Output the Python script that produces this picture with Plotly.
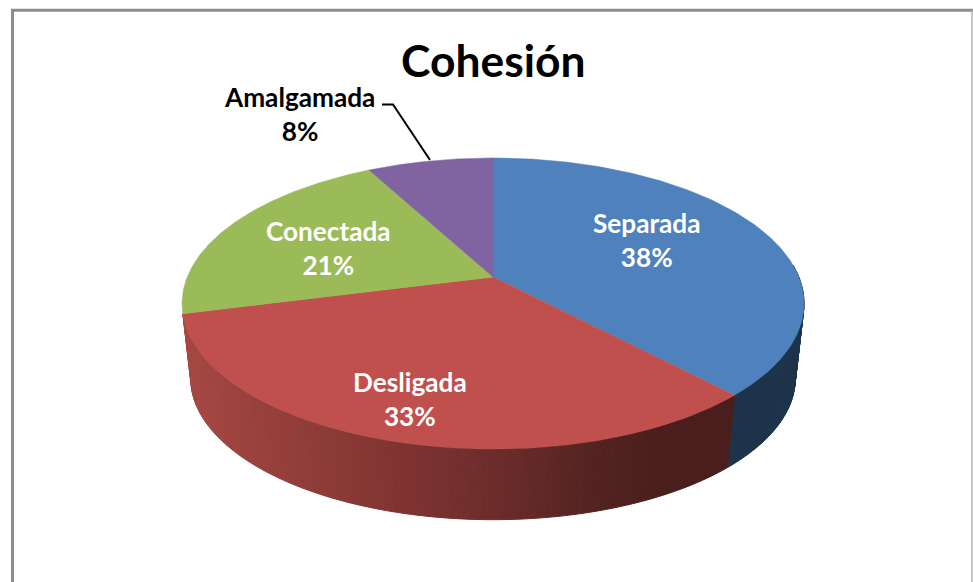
import numpy as np
import plotly.graph_objects as go

categories = ["Separada", "Desligada", "Conectada", "Amalgamada"]
values = [38.0, 33.0, 21.2, 7.8]
top_colors = ["#4f81bd", "#c0504d", "#9bbb59", "#8064a2"]
label_colors = ["white", "white", "white", "black"]
label_pos = [(647, 240), (409.5, 399), (328.5, 248), (299, 113.5)]
title = "Cohesión"

FONT = "Lato, Carlito, Calibri, sans-serif"
CX, APEX_Y, R, S, K = 493.0, 277.0, 305.8, 140.7, -0.182
BOTTOM_SCALE, BOTTOM_APEX_Y = 0.972, 352.5


def rim(deg, scale=1.0, apex=APEX_Y):
    t = np.radians(np.asarray(deg, dtype=float))
    x, y = np.sin(t), -np.cos(t)
    d = 1 + K * y
    return CX + scale * R * x / d, apex + scale * S * y / d


def wall_red(px):
    return [float(np.interp(px, [190, 400, 510, 600, 670], a))
            for a in ([165, 128, 105, 82, 74], [72, 52, 44, 35, 30], [66, 50, 42, 33, 28])]


fig = go.Figure()
total = sum(values)
edges = np.concatenate([[0], np.cumsum(values)]) * 360 / total


def strips(start, stop, color_fn):
    angles = np.arange(start, stop, 1.0).tolist() + [stop]
    for a0, a1 in zip(angles[:-1], angles[1:]):
        x0, y0 = rim(a0)
        x1, y1 = rim(a1)
        x2, y2 = rim(a1, BOTTOM_SCALE, BOTTOM_APEX_Y)
        x3, y3 = rim(a0, BOTTOM_SCALE, BOTTOM_APEX_Y)
        c = color_fn((x0 + x1 + x2 + x3) / 4)
        fig.add_trace(go.Scatter(x=[x0, x1, x2, x3, x0], y=[y0, y1, y2, y3, y0], mode="lines",
                                 fill="toself", fillcolor=c, line=dict(color=c, width=1),
                                 hoverinfo="skip", showlegend=False))


strips(85, edges[1], lambda px: "rgb(29,51,74)")
strips(edges[1], edges[2], lambda px: "rgb(%d,%d,%d)" % tuple(wall_red(px)))

for name, color, a0, a1 in zip(categories, top_colors, edges[:-1], edges[1:]):
    deg = np.linspace(a0, a1, 160)
    xs, ys = rim(deg)
    fig.add_trace(go.Scatter(x=np.r_[CX, xs, CX], y=np.r_[APEX_Y, ys, APEX_Y], mode="lines",
                             fill="toself", fillcolor=color, line=dict(color=color, width=0.5),
                             name=name, hoverinfo="name", showlegend=False))

# leader line of the outside label
fig.add_trace(go.Scatter(x=[382, 393, 430], y=[104.5, 104.5, 160], mode="lines",
                         line=dict(color="black", width=2), hoverinfo="skip", showlegend=False))

for name, v, c, (lx, ly) in zip(categories, values, label_colors, label_pos):
    fig.add_annotation(x=lx, y=ly, text=f"{name}<br>{v:.0f}%", showarrow=False,
                       font=dict(family=FONT, size=26.2, color=c, weight="bold"), align="center")

fig.add_annotation(x=492.5, y=59.5, text=title, showarrow=False,
                   font=dict(family=FONT, size=44.4, color="black", weight="bold"))

frame = [
    dict(x0=12.5, y0=10.3, x1=12.5, y1=582, line=dict(color="#8c8c8c", width=3)),
    dict(x0=11, y0=10.3, x1=973, y1=10.3, line=dict(color="#8c8c8c", width=3)),
    dict(x0=972, y0=10.3, x1=972, y1=582, line=dict(color="#b5b5b5", width=1.5)),
]
for f in frame:
    fig.add_shape(type="line", xref="x", yref="y", **f)

fig.update_layout(
    width=973, height=582, margin=dict(l=0, r=0, t=0, b=0),
    paper_bgcolor="white", plot_bgcolor="white", showlegend=False,
    xaxis=dict(range=[0, 973], visible=False, fixedrange=True),
    yaxis=dict(range=[582, 0], visible=False, fixedrange=True),
)
fig.write_html("out.html", config=dict(displayModeBar=False),
               post_script="document.body.style.margin='0';document.body.style.overflow='hidden';")
